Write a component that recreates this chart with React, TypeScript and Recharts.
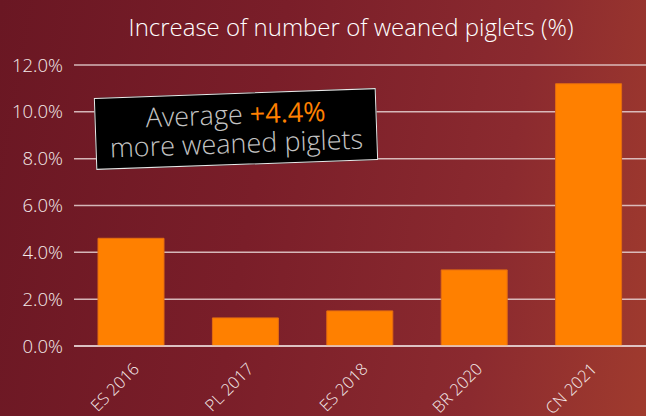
import { BarChart, Bar, XAxis, YAxis, CartesianGrid } from "recharts";

const categories = ["ES 2016", "PL 2017", "ES 2018", "BR 2020", "CN 2021"];
const increase = [4.6, 1.2, 1.5, 3.25, 11.2];
const yTicks = [0, 2, 4, 6, 8, 10, 12];

const data = categories.map((name, i) => ({ name, value: increase[i] }));

const FONT = "'Open Sans', sans-serif";

function XTick(props: any) {
  const { x, y, payload } = props;
  return (
    <g transform={`translate(${x + 9},${y + 24})`}>
      <text
        textAnchor="end"
        transform="rotate(-45)"
        fill="#f4eaea"
        fontSize={16.5}
        fontFamily={FONT}
        fontWeight={300}
      >
        {payload.value}
      </text>
    </g>
  );
}

export default function App() {
  return (
    <div
      style={{
        position: "fixed",
        left: 0,
        top: 0,
        width: 646,
        height: 416,
        overflow: "hidden",
        background:
          "linear-gradient(100deg, #6a1723 0%, #7a1e29 40%, #8b2a2f 75%, #a03b2e 100%)",
      }}
    >
      <div
        style={{
          position: "absolute",
          left: 0,
          top: 10,
          width: 702,
          textAlign: "center",
          color: "#ffffff",
          fontFamily: FONT,
          fontWeight: 300,
          fontSize: 24,
        }}
      >
        Increase of number of weaned piglets (%)
      </div>

      <BarChart
        width={646}
        height={416}
        data={data}
        margin={{ top: 65, right: 0, bottom: 0, left: 0 }}
        barSize={66}
      >
        <CartesianGrid
          vertical={false}
          stroke="#e6d2d2"
          strokeOpacity={0.85}
          strokeWidth={1.5}
        />
        <XAxis
          dataKey="name"
          height={70}
          interval={0}
          tickLine={false}
          tickSize={0}
          tickMargin={0}
          axisLine={{ stroke: "#e6d2d2", strokeWidth: 1.5 }}
          tick={<XTick />}
        />
        <YAxis
          width={74}
          domain={[0, 12]}
          ticks={yTicks}
          interval={0}
          axisLine={false}
          tickLine={false}
          tickSize={0}
          tickMargin={11}
          tickFormatter={(v: number) => `${v.toFixed(1)}%`}
          tick={{ fill: "#f4eaea", fontSize: 18.5, fontFamily: FONT, fontWeight: 300 }}
        />
        <Bar
          dataKey="value"
          fill="#ff8000"
          stroke="#e46c10"
          strokeWidth={1}
          isAnimationActive={false}
        />
      </BarChart>

      <div
        style={{
          position: "absolute",
          left: 95,
          top: 93,
          width: 282,
          height: 72,
          background: "#000000",
          border: "1.5px solid #e8e8e8",
          transform: "rotate(-2deg)",
          color: "#c4c4c4",
          fontFamily: FONT,
          fontWeight: 300,
          fontSize: 27,
          lineHeight: "29px",
          textAlign: "center",
          paddingTop: 5,
          boxSizing: "border-box",
        }}
      >
        Average <span style={{ color: "#ff8000", fontWeight: 400 }}>+4.4%</span>
        <br />
        more weaned piglets
      </div>
    </div>
  );
}
